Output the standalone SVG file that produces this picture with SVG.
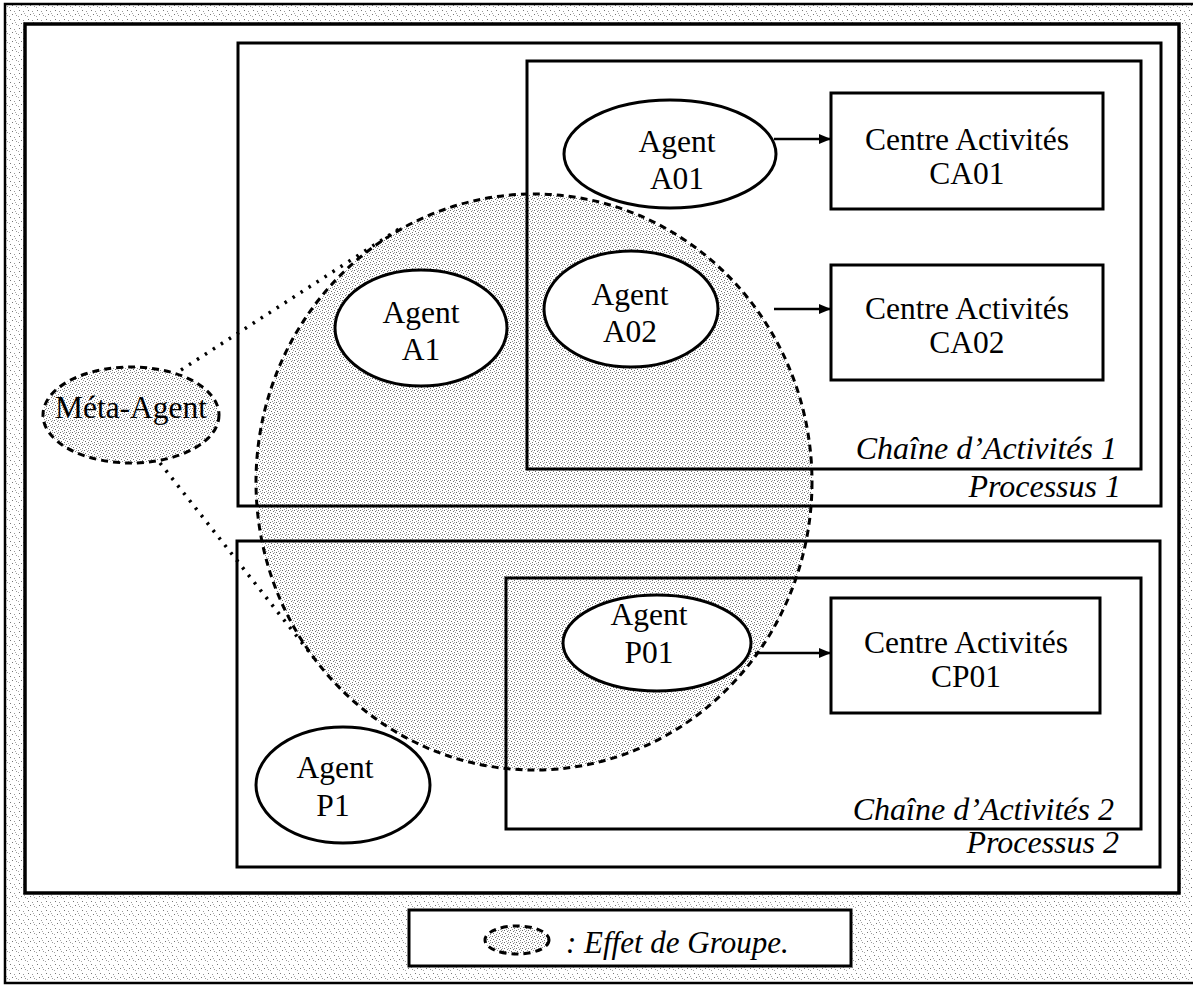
<svg xmlns="http://www.w3.org/2000/svg" width="1193" height="985" viewBox="0 0 1193 985">
<style>
.box{fill:none;stroke:#000;stroke-width:3}
.wbox{fill:#fff;stroke:#000;stroke-width:3}
.ell{fill:#fff;stroke:#000;stroke-width:3}
.t{font-family:"Liberation Serif","Times New Roman","DejaVu Serif",serif;font-size:31.5px;fill:#000;text-anchor:middle}
.it{font-family:"Liberation Serif","Times New Roman","DejaVu Serif",serif;font-size:32px;font-style:italic;fill:#000;text-anchor:end}
.dash{stroke:#000;stroke-width:3;stroke-dasharray:7 5}
.dot{fill:none;stroke:#000;stroke-width:3.5;stroke-dasharray:2.5 7}
.arr{fill:none;stroke:#000;stroke-width:2.5;marker-end:url(#ah)}
</style>
<defs>
<pattern id="band" width="9" height="9" patternUnits="userSpaceOnUse">
<rect width="9" height="9" fill="#fff"/>
<rect x="1" y="1" width="1" height="1" fill="#777"/>
<rect x="5" y="2" width="1" height="1" fill="#999"/>
<rect x="3" y="5" width="1" height="1" fill="#777"/>
<rect x="7" y="6" width="1" height="1" fill="#999"/>
<rect x="0" y="7" width="1" height="1" fill="#aaa"/>
<rect x="6" y="4" width="1" height="1" fill="#aaa"/>
</pattern>
<pattern id="grp" width="6" height="6" patternUnits="userSpaceOnUse">
<rect width="6" height="6" fill="#fff"/>
<rect x="0" y="0" width="1" height="1" fill="#666"/>
<rect x="3" y="1" width="1" height="1" fill="#777"/>
<rect x="1" y="3" width="1" height="1" fill="#666"/>
<rect x="4" y="4" width="1" height="1" fill="#777"/>
<rect x="5" y="2" width="1" height="1" fill="#999"/>
<rect x="2" y="5" width="1" height="1" fill="#999"/>
<rect x="4" y="0" width="1" height="1" fill="#aaa"/>
</pattern>
<marker id="ah" viewBox="0 0 12 10" refX="12" refY="5" markerWidth="12" markerHeight="10" markerUnits="userSpaceOnUse" orient="auto">
<path d="M0,0 L12,5 L0,10 z" fill="#000"/>
</marker>
</defs>

<rect width="1193" height="985" fill="#fff"/>
<rect x="5" y="4" width="1195" height="979" fill="url(#band)" stroke="#000" stroke-width="2.5"/>
<rect x="25" y="24" width="1154" height="869" fill="#fff" stroke="#000" stroke-width="3.5"/>

<!-- group effect area (fill under box outlines) -->
<ellipse cx="534" cy="482" rx="278" ry="288" fill="url(#grp)"/>

<g id="processus1">
<rect class="box" x="238" y="43" width="923" height="463"/>
<text class="it" x="1121" y="497">Processus 1</text>
</g>
<g id="chaine1">
<rect class="box" x="527" y="61" width="614" height="408"/>
<text class="it" x="1117" y="459">Chaîne d’Activités 1</text>
</g>
<g id="processus2">
<rect class="box" x="237" y="541" width="923" height="326"/>
<text class="it" x="1119" y="853">Processus 2</text>
</g>
<g id="chaine2">
<rect class="box" x="506" y="578" width="635" height="251"/>
<text class="it" x="1114" y="820">Chaîne d’Activités 2</text>
</g>

<g id="groupe">
<ellipse class="dash" cx="534" cy="482" rx="278" ry="288" fill="none"/>
</g>

<g id="ca01">
<rect class="wbox" x="831" y="93" width="272" height="116"/>
<text class="t" x="967" y="150">Centre Activités</text>
<text class="t" x="967" y="184">CA01</text>
</g>
<g id="ca02">
<rect class="wbox" x="831" y="265" width="272" height="115"/>
<text class="t" x="967" y="319">Centre Activités</text>
<text class="t" x="967" y="353">CA02</text>
</g>
<g id="cp01">
<rect class="wbox" x="831" y="598" width="269" height="115"/>
<text class="t" x="966" y="653">Centre Activités</text>
<text class="t" x="966" y="687">CP01</text>
</g>

<g id="agentA01">
<ellipse class="ell" cx="670" cy="154" rx="106" ry="54"/>
<text class="t" x="677" y="152">Agent</text>
<text class="t" x="677" y="189">A01</text>
</g>
<g id="agentA02">
<ellipse class="ell" cx="631" cy="309" rx="87" ry="58"/>
<text class="t" x="630" y="305">Agent</text>
<text class="t" x="630" y="342">A02</text>
</g>
<g id="agentA1">
<ellipse class="ell" cx="421" cy="328" rx="86" ry="58"/>
<text class="t" x="421" y="323">Agent</text>
<text class="t" x="421" y="360">A1</text>
</g>
<g id="agentP01">
<ellipse class="ell" cx="657" cy="643" rx="94" ry="48"/>
<text class="t" x="649" y="625">Agent</text>
<text class="t" x="649" y="663">P01</text>
</g>
<g id="agentP1">
<ellipse class="ell" cx="343" cy="785" rx="87" ry="58"/>
<text class="t" x="335" y="778">Agent</text>
<text class="t" x="333" y="816">P1</text>
</g>

<g id="metaAgent">
<ellipse class="dash" cx="131" cy="415" rx="88" ry="48" fill="url(#grp)"/>
<text class="t" x="131" y="418">Méta-Agent</text>
</g>

<g id="connectors">
<line class="arr" x1="774" y1="139" x2="831" y2="139"/>
<line class="arr" x1="774" y1="309" x2="831" y2="309"/>
<line class="arr" x1="755" y1="653" x2="831" y2="653"/>
<line class="dot" x1="181" y1="370" x2="402" y2="227"/>
<line class="dot" x1="160" y1="463" x2="314" y2="658"/>
</g>

<g id="legende">
<rect class="wbox" x="409" y="910" width="442" height="56"/>
<ellipse class="dash" cx="517" cy="940" rx="32" ry="14" fill="url(#grp)"/>
<text class="it" x="566" y="953" style="text-anchor:start;font-size:31px">: Effet de Groupe.</text>
</g>
</svg>
